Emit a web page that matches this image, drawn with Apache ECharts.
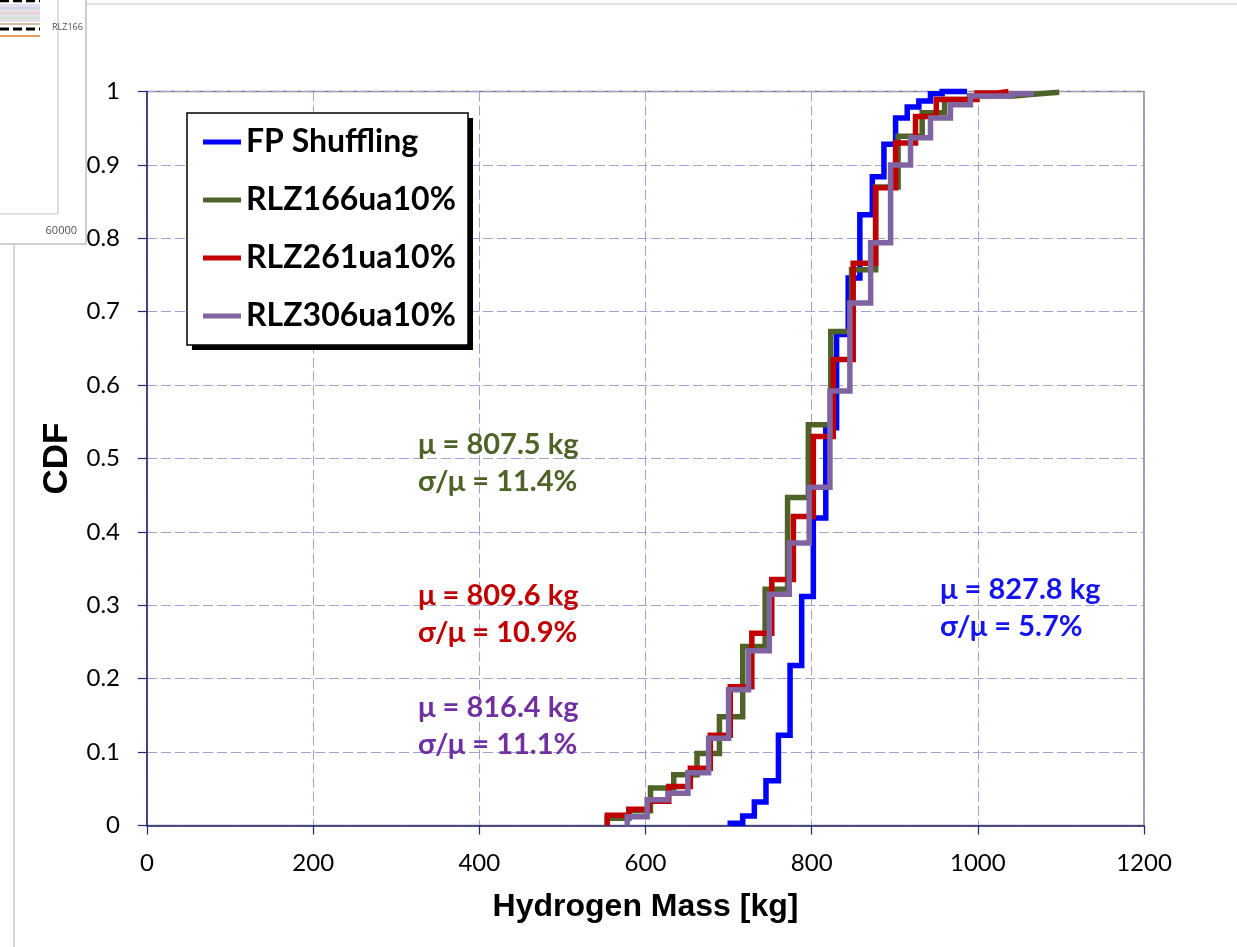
<!DOCTYPE html>
<html><head><meta charset="utf-8">
<script src="https://cdn.jsdelivr.net/npm/echarts@6/dist/echarts.min.js"></script>
<style>html,body{margin:0;padding:0;background:#fff}#c{width:1237px;height:947px}</style>
</head><body><div id="c"></div>
<script>
// ---- data ----
const seriesNames = ['FP Shuffling', 'RLZ166ua10%', 'RLZ261ua10%', 'RLZ306ua10%'];
const fpShuffling = [[702,0],[702,0.003],[717,0.013],[731,0.032],[745,0.061],[760,0.123],[774,0.218],[788,0.312],[802,0.419],[817,0.542],[830,0.669],[844,0.746],[858,0.832],[873,0.884],[887,0.928],[901,0.964],[915,0.979],[929,0.987],[943,0.997],[957,1.0],[987,1.0]];
const rlz166 = [[554,0],[554,0.010],[580,0.020],[606,0.051],[634,0.069],[662,0.098],[689,0.148],[717,0.244],[744,0.322],[771,0.447],[796,0.546],[823,0.673],[848,0.757],[877,0.870],[904,0.939],[933,0.971],[960,0.989],[990,0.994],[1043,0.9965],[1071,0.999],[1098,0.999]];
const rlz261 = [[554,0],[554,0.014],[580,0.022],[604,0.033],[628,0.053],[654,0.078],[678,0.123],[702,0.189],[728,0.262],[752,0.335],[778,0.421],[802,0.530],[826,0.635],[850,0.766],[877,0.869],[901,0.930],[925,0.966],[950,0.989],[999,0.998],[1024,1.0],[1037,1.0]];
const rlz306 = [[578,0],[578,0.012],[602,0.035],[627,0.044],[651,0.072],[676,0.119],[700,0.185],[724,0.238],[749,0.315],[773,0.385],[797,0.461],[822,0.592],[846,0.712],[871,0.794],[895,0.900],[919,0.937],[943,0.964],[967,0.982],[991,0.994],[1041,0.997],[1067,0.997]];
const xTickLabels = ['0','200','400','600','800','1000','1200'];
const yTickLabels = ['0','0.1','0.2','0.3','0.4','0.5','0.6','0.7','0.8','0.9','1'];
const annoMu = ['μ = 827.8 kg', 'μ = 807.5 kg', 'μ = 809.6 kg', 'μ = 816.4 kg'];
const annoCv = ['σ/μ = 5.7%', 'σ/μ = 11.4%', 'σ/μ = 10.9%', 'σ/μ = 11.1%'];
const xTitle = 'Hydrogen Mass [kg]';
const yTitle = 'CDF';

// ---- styles ----
const lineColors = ['#0000FF', '#4F6228', '#C00000', '#8064A2'];
const annoColors = ['#1414F0', '#4F6228', '#C00000', '#7030A0'];
const annoPos = [[940, 590], [418, 445], [418, 596], [418, 708]];
const navy = '#26266E';
const gridDash = {color: '#A0A0D4', width: 1, type: [10, 4]};
const boldSans = '"Liberation Sans", Arial, sans-serif';

const chart = echarts.init(document.getElementById('c'), null, {renderer: 'canvas'});
const allData = [fpShuffling, rlz166, rlz261, rlz306];

const annoGraphics = [];
annoPos.forEach((p, i) => {
  annoGraphics.push({type: 'text', x: p[0], y: p[1], z: 50,
    style: {text: annoMu[i], fill: annoColors[i], font: 'bold 29px Lato', textVerticalAlign: 'middle'}});
  annoGraphics.push({type: 'text', x: p[0], y: p[1] + 37, z: 50,
    style: {text: annoCv[i], fill: annoColors[i], font: 'bold 29px Lato', textVerticalAlign: 'middle'}});
});

const legendBox = [
  {type: 'rect', z: 1, shape: {x: 192, y: 118, width: 281, height: 232}, style: {fill: '#000'}},
  {type: 'rect', z: 1, shape: {x: 187, y: 113, width: 281, height: 232}, style: {fill: '#fff', stroke: '#000', lineWidth: 1.5}}
];

const deco = [
  {type: 'line', z: 100, shape: {x1: 86, y1: 4, x2: 1237, y2: 4}, style: {stroke: '#D6D6D6', lineWidth: 1.5}},
  {type: 'line', z: 100, shape: {x1: 14, y1: 245, x2: 14, y2: 947}, style: {stroke: '#C8C8C8', lineWidth: 1.5}},
  {type: 'rect', z: 100, shape: {x: -2, y: -2, width: 88, height: 246}, style: {fill: '#fff', stroke: '#C0C0C0', lineWidth: 1.5}},
  {type: 'line', z: 101, shape: {x1: 58, y1: 0, x2: 58, y2: 214}, style: {stroke: '#C8C8C8', lineWidth: 1.2}},
  {type: 'line', z: 101, shape: {x1: 0, y1: 214, x2: 58, y2: 214}, style: {stroke: '#C8C8C8', lineWidth: 1.2}},
  {type: 'line', z: 101, shape: {x1: 0, y1: 1, x2: 40, y2: 1}, style: {stroke: '#000', lineWidth: 2.5, lineDash: [9, 4]}},
  {type: 'rect', z: 101, shape: {x: 0, y: 4, width: 40, height: 18}, style: {fill: '#E4E0EA'}},
  {type: 'line', z: 102, shape: {x1: 0, y1: 8, x2: 40, y2: 8}, style: {stroke: '#C9D7E8', lineWidth: 2}},
  {type: 'line', z: 102, shape: {x1: 0, y1: 13, x2: 40, y2: 13}, style: {stroke: '#EBD3D3', lineWidth: 2}},
  {type: 'line', z: 102, shape: {x1: 0, y1: 18, x2: 40, y2: 18}, style: {stroke: '#CFE3D4', lineWidth: 2}},
  {type: 'line', z: 102, shape: {x1: 0, y1: 24, x2: 40, y2: 24}, style: {stroke: '#C8A878', lineWidth: 1.5}},
  {type: 'line', z: 102, shape: {x1: 0, y1: 29, x2: 40, y2: 29}, style: {stroke: '#000', lineWidth: 3, lineDash: [9, 4]}},
  {type: 'line', z: 102, shape: {x1: 0, y1: 36, x2: 40, y2: 36}, style: {stroke: '#E07B2A', lineWidth: 1.5}},
  {type: 'text', z: 102, x: 52, y: 27, style: {text: 'RLZ166', fill: '#505050', font: '9px "Open Sans"', textVerticalAlign: 'middle'}},
  {type: 'text', z: 102, x: 77, y: 231, style: {text: '60000', fill: '#505050', font: '11px "Open Sans"', textAlign: 'right', textVerticalAlign: 'middle'}}
];

chart.setOption({
  animation: false,
  backgroundColor: '#fff',
  grid: {left: 147, right: 93, top: 91.5, bottom: 121.5, show: true, borderColor: '#7F7F7F', borderWidth: 1.5, backgroundColor: 'transparent'},
  legend: {
    show: true, orient: 'vertical', left: 187, top: 113, z: 5,
    data: seriesNames, icon: 'rect', itemWidth: 38, itemHeight: 5, itemGap: 26,
    padding: [13, 20, 16, 16],
    textStyle: {fontFamily: 'Lato', fontWeight: 'bold', fontSize: 32, lineHeight: 31, color: '#000'}
  },
  xAxis: {
    type: 'value', min: 0, max: 1200, interval: 200,
    name: xTitle, nameLocation: 'middle', nameGap: 66,
    nameTextStyle: {fontFamily: boldSans, fontWeight: 'bold', fontSize: 32, color: '#000'},
    axisLine: {show: true, lineStyle: {color: navy, width: 1.5}},
    axisTick: {show: true, length: 9, lineStyle: {color: navy, width: 1.2}},
    axisLabel: {margin: 26, fontFamily: 'Lato', fontSize: 24, color: '#000',
      formatter: v => xTickLabels[Math.round(v / 200)]},
    splitLine: {show: true, lineStyle: gridDash}
  },
  yAxis: {
    type: 'value', min: 0, max: 1, interval: 0.1,
    name: yTitle, nameLocation: 'middle', nameGap: 72,
    nameTextStyle: {fontFamily: boldSans, fontWeight: 'bold', fontSize: 35, color: '#000'},
    axisLine: {show: true, lineStyle: {color: navy, width: 1.5}},
    axisTick: {show: true, length: 9, lineStyle: {color: navy, width: 1.2}},
    axisLabel: {margin: 27, fontFamily: 'Lato', fontSize: 24, color: '#000',
      formatter: v => yTickLabels[Math.round(v * 10)]},
    splitLine: {show: true, lineStyle: gridDash}
  },
  series: allData.map((d, i) => ({
    name: seriesNames[i], type: 'line', step: 'end', data: d,
    showSymbol: false, symbol: 'none', clip: false,
    lineStyle: {color: lineColors[i], width: 5.5, join: 'miter'},
    itemStyle: {color: lineColors[i]}
  })),
  graphic: legendBox.concat(annoGraphics, deco)
});
</script></body></html>
